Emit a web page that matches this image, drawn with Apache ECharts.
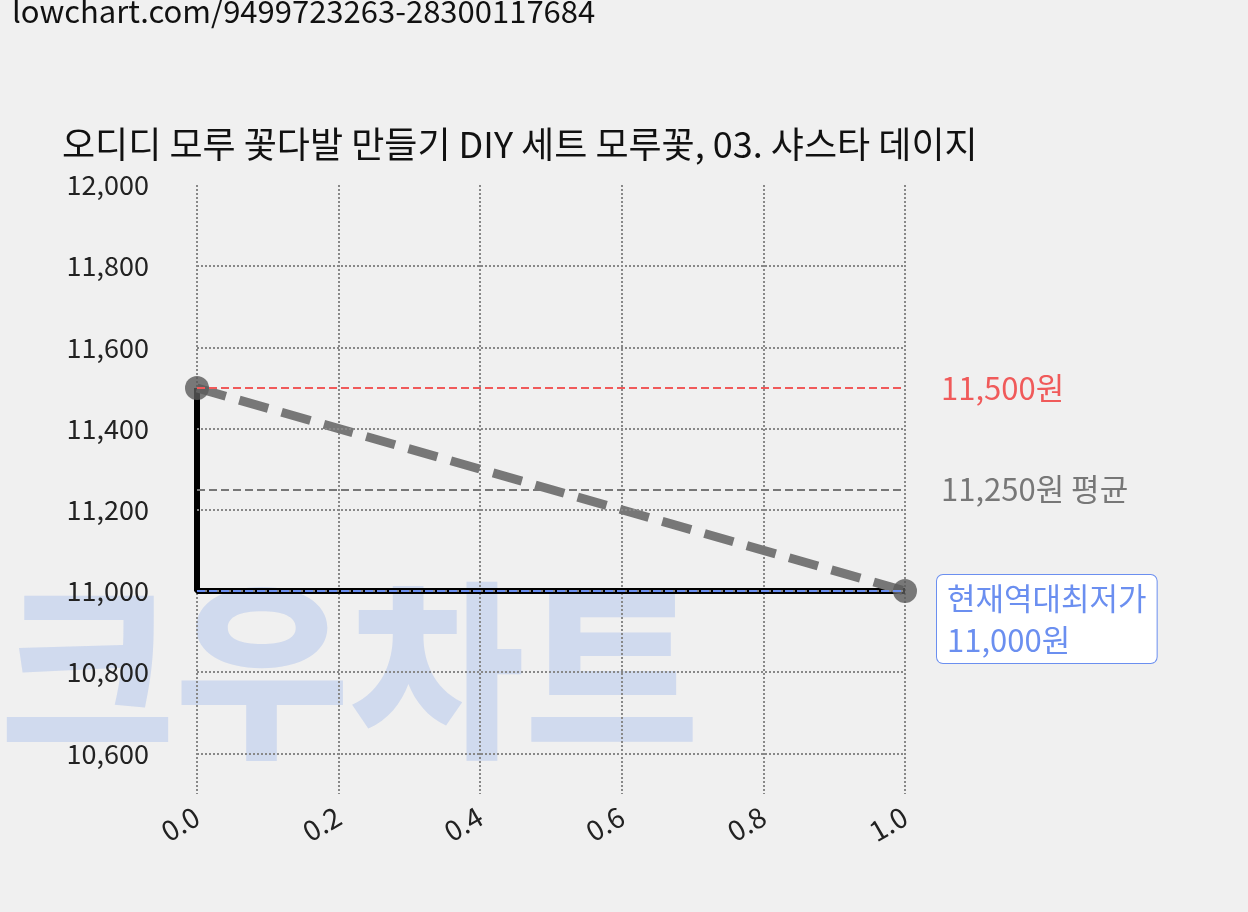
<!DOCTYPE html><html><head><meta charset="utf-8">
<script src="https://cdn.jsdelivr.net/npm/echarts@6/dist/echarts.min.js"></script>
<style>body{margin:0;background:#f0f0f0}#c{width:1248px;height:912px}</style></head><body><div id="c"></div>
<script>
const xs=[0,1];
const prices=[11500,11000];
const yTicks=[10600,10800,11000,11200,11400,11600,11800,12000];
const maxP=11500, avgP=11250, minP=11000;
const F='"Noto Sans CJK KR","Noto Sans",sans-serif';
const c=echarts.init(document.getElementById('c'));
c.setOption({
 backgroundColor:'#f0f0f0',
 graphic:[
  {type:'text',left:12,top:-4,style:{text:'lowchart.com/9499723263-28300117684',font:'31px '+F,fill:'#111'}},
  {type:'text',left:62,top:126,style:{text:'오디디 모루 꽃다발 만들기 DIY 세트 모루꽃, 03. 샤스타 데이지',font:'36px '+F,fill:'#111'}},
  {type:'text',left:0,top:575,z:-1,style:{text:'크우차트',font:'900 190px '+F,fill:'rgba(160,185,235,0.4)'}}
 ],
 grid:{left:197,right:343,top:185,bottom:118},
 xAxis:{type:'value',min:0,max:1,interval:0.2,axisLine:{show:false},axisTick:{show:false},
  splitLine:{show:true,lineStyle:{type:'dotted',color:'#888',width:2}},
  axisLabel:{rotate:30,fontSize:28,color:'#222',fontFamily:F,margin:20,formatter:v=>v.toFixed(1)}},
 yAxis:{type:'value',min:10500,max:12000,interval:100,axisLine:{show:false},axisTick:{show:false},splitLine:{show:false},
  axisLabel:{customValues:yTicks,fontSize:27,color:'#222',fontFamily:F,margin:48,formatter:v=>v.toLocaleString('en-US')}},
 series:[
  {type:'line',data:[[xs[0],prices[0]],[xs[0],prices[1]],[xs[1],prices[1]]],lineStyle:{color:'#000',width:6},symbol:'none',z:3,
   markLine:{silent:true,symbol:'none',label:{show:false},lineStyle:{type:'dotted',color:'#888',width:2},data:yTicks.filter(v=>v!==12000).map(v=>({yAxis:v}))}},
  {type:'line',data:xs.map((x,i)=>[x,prices[i]]),lineStyle:{color:'#777',width:9,type:[30,14]},symbol:'circle',symbolSize:24,
   itemStyle:{color:'rgba(90,90,90,0.8)'},z:4,
   markLine:{silent:true,symbol:'none',data:[
    {yAxis:maxP,lineStyle:{color:'#f05a5a',type:'dashed',width:2},label:{formatter:'11,500원',color:'#f05a5a',fontSize:31,fontFamily:F,position:'end',distance:36}},
    {yAxis:avgP,lineStyle:{color:'#777',type:'dashed',width:2},label:{formatter:'11,250원 평균',color:'#777',fontSize:31,fontFamily:F,position:'end',distance:36}},
    {yAxis:minP,lineStyle:{color:'#6b8ff0',type:'dashed',width:2},label:{formatter:'현재역대최저가\n11,000원',color:'#6b8ff0',fontSize:31,fontFamily:F,position:'end',distance:32,
      backgroundColor:'#fff',borderColor:'#6b8ff0',borderWidth:1,borderRadius:6,padding:[2,10],lineHeight:42,align:'left',verticalAlign:'middle',offset:[0,28]}}
   ]}}
 ]
});
</script></body></html>
